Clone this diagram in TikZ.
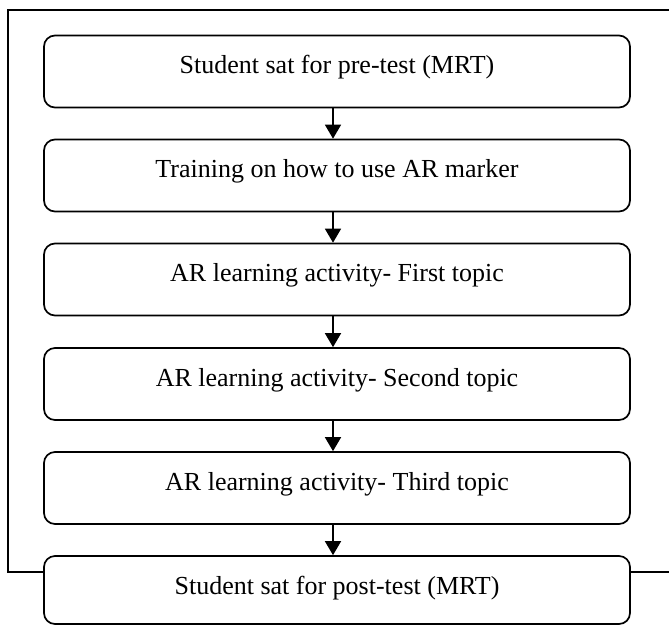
\documentclass[tikz,border=0pt]{standalone}
\usepackage{fontspec}
\setmainfont{Liberation Serif}
\usetikzlibrary{arrows.meta}
\begin{document}
\begin{tikzpicture}[x=1pt,y=-1pt,
  stepbox/.style={draw,line width=1.7pt,rounded corners=11pt,fill=white,
    minimum width=586pt,inner sep=0pt,text height=38pt,text depth=34pt,
    font=\fontsize{26}{30}\selectfont},
  lastbox/.style={stepbox,text depth=30pt},
  flow/.style={line width=1.6pt,-{Triangle[width=16pt,length=14pt]}}]
\useasboundingbox (0,0) rectangle (669,625);
\draw[line width=1.5pt] (669,10) -- (8,10) -- (8,572) -- (669,572);
\coordinate (ax) at (333,0);
\node[stepbox] (b1) at (337,71.5) {Student sat for pre-test (MRT)};
\node[stepbox] (b2) at (337,175.5) {Training on how to use AR marker};
\node[stepbox] (b3) at (337,279.5) {AR learning activity- First topic};
\node[stepbox] (b4) at (337,384) {AR learning activity- Second topic};
\node[stepbox] (b5) at (337,488) {AR learning activity- Third topic};
\node[lastbox] (b6) at (337,590) {Student sat for post-test (MRT)};
\draw[flow] (b1.south -| ax) -- (b2.north -| ax);
\draw[flow] (b2.south -| ax) -- (b3.north -| ax);
\draw[flow] (b3.south -| ax) -- (b4.north -| ax);
\draw[flow] (b4.south -| ax) -- (b5.north -| ax);
\draw[flow] (b5.south -| ax) -- (b6.north -| ax);
\end{tikzpicture}
\end{document}
